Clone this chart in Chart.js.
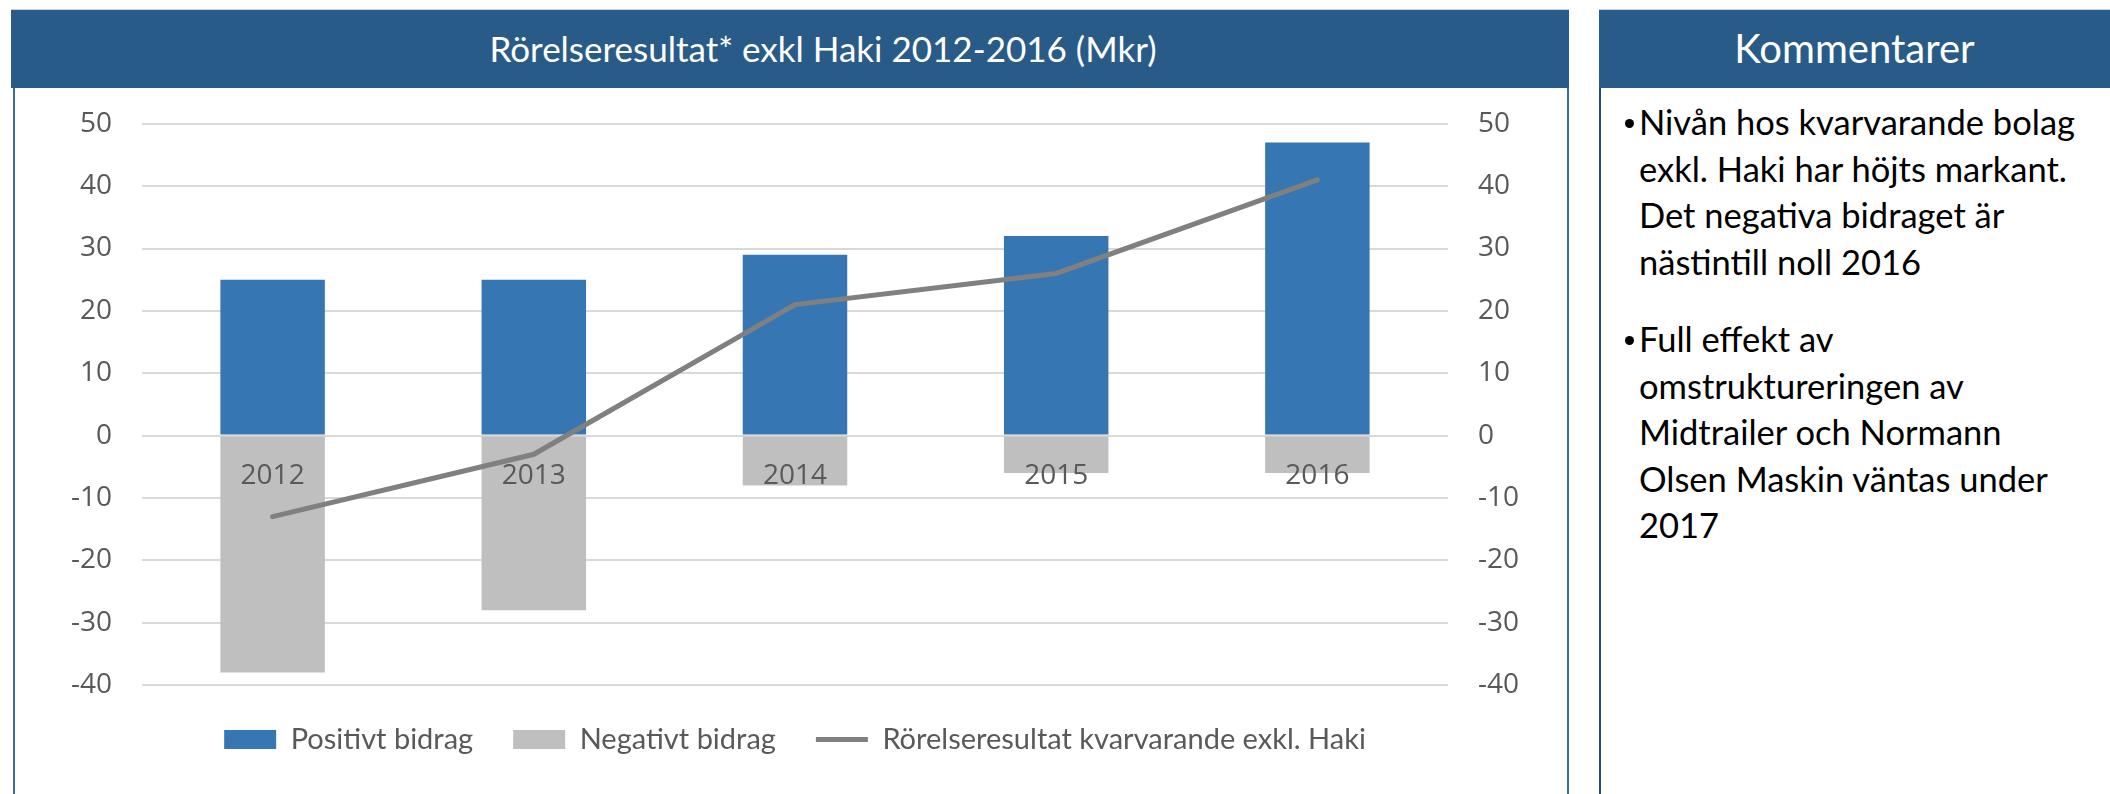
<!DOCTYPE html>
<html>
<head>
  <meta charset="utf-8" />
  <title>Rörelseresultat exkl Haki</title>
  <script src="https://cdn.jsdelivr.net/npm/chart.js@4.4.1/dist/chart.umd.min.js"></script>
  <style>
    body {
      margin: 0;
      background-color: #ffffff;
      width: 2110px;
      height: 794px;
      overflow: hidden;
      position: relative;
      font-family: Lato, "Open Sans", sans-serif;
    }

    .header {
      position: absolute;
      top: 9px;
      height: 79px;
      background-color: #295b89;
      border-top: 1px solid #c9d3de;
      color: #ffffff;
      font-size: 35px;
      line-height: 77px;
      text-align: center;
      box-sizing: border-box;
    }

    #chartHeader { left: 11px; width: 1558px; padding-left: 66px; }
    #commentHeader { left: 1599px; width: 520px; font-size: 40px; padding-right: 9px; }

    .frame {
      position: absolute;
      top: 88px;
      bottom: 0;
      border-left: 2px solid #3a6c9c;
    }

    #chartBox {
      position: absolute;
      left: 15px;
      top: 77px;
      width: 1552px;
      height: 717px;
    }

    #comments {
      position: absolute;
      left: 1612px;
      top: 99px;
      width: 498px;
      font-size: 34.5px;
      color: #000000;
      line-height: 46.5px;
    }

    #comments p {
      margin: 0 0 31px 0;
      padding-left: 27px;
      position: relative;
      white-space: nowrap;
    }

    #comments p:before {
      content: "";
      position: absolute;
      left: 13px;
      top: 20px;
      width: 9px;
      height: 9px;
      border-radius: 50%;
      background-color: #000000;
    }
  </style>
</head>
<body>
  <div class="header" id="chartHeader">Rörelseresultat* exkl Haki 2012-2016 (Mkr)</div>
  <div class="frame" style="left: 13px;"></div>
  <div class="frame" style="left: 1567px;"></div>
  <div id="chartBox"><canvas id="resultChart"></canvas></div>

  <div class="header" id="commentHeader">Kommentarer</div>
  <div class="frame" style="left: 1599px; border-left-color: #264a70;"></div>
  <div id="comments">
    <p>Nivån hos kvarvarande bolag<br>exkl. Haki har höjts markant.<br>Det negativa bidraget är<br>nästintill noll 2016</p>
    <p>Full effekt av<br>omstruktureringen av<br>Midtrailer och Normann<br>Olsen Maskin väntas under<br>2017</p>
  </div>

  <script>
    // data (Mkr)
    const years = ['2012', '2013', '2014', '2015', '2016'];
    const positivt = [25, 25, 29, 32, 47];
    const negativt = [-38, -28, -8, -6, -6];
    const resultat = [-13, -3, 21, 26, 41];

    const axisMin = -40;
    const axisMax = 50;
    const axisStep = 10;

    const tickFont = { family: "'Open Sans'", size: 28 };
    const tickColor = '#595959';

    var ctx = document.getElementById('resultChart');
    var chart = new Chart(ctx, {
      type: 'bar',
      data: {
        labels: years,
        datasets: [{
          label: 'Positivt bidrag',
          data: positivt,
          backgroundColor: '#3677b3',
          borderWidth: 0,
          pointStyle: 'rect',
          barPercentage: 0.8,
          categoryPercentage: 0.5,
          order: 2
        }, {
          label: 'Negativt bidrag',
          data: negativt,
          backgroundColor: '#bfbfbf',
          borderWidth: 0,
          pointStyle: 'rect',
          barPercentage: 0.8,
          categoryPercentage: 0.5,
          order: 3
        }, {
          type: 'line',
          label: 'Rörelseresultat kvarvarande exkl. Haki',
          data: resultat,
          borderColor: '#808080',
          backgroundColor: '#808080',
          borderWidth: 5,
          borderCapStyle: 'round',
          pointRadius: 0,
          pointStyle: 'line',
          tension: 0,
          order: 1
        }]
      },
      options: {
        responsive: true,
        maintainAspectRatio: false,
        animation: false,
        layout: {
          padding: { left: 26, right: 18, top: 20, bottom: 30 }
        },
        plugins: {
          tooltip: { enabled: false },
          legend: {
            position: 'bottom',
            labels: {
              usePointStyle: true,
              pointStyleWidth: 52,
              boxHeight: 19,
              padding: 40,
              color: tickColor,
              font: { family: 'Lato', size: 29 },
              sort: (a, b) => a.datasetIndex - b.datasetIndex
            }
          }
        },
        scales: {
          x: {
            stacked: true,
            position: { y: 0 },
            grid: { display: false, drawTicks: false },
            border: { display: false },
            ticks: { color: tickColor, font: tickFont, padding: 24, z: 1 }
          },
          y: {
            stacked: true,
            min: axisMin,
            max: axisMax,
            position: 'left',
            grid: { color: '#d9d9d9', lineWidth: 2, drawTicks: false },
            border: { display: false },
            ticks: { stepSize: axisStep, color: tickColor, font: tickFont, padding: 30 }
          },
          y2: {
            min: axisMin,
            max: axisMax,
            position: 'right',
            grid: { display: false, drawTicks: false },
            border: { display: false },
            ticks: { stepSize: axisStep, color: tickColor, font: tickFont, padding: 30 }
          }
        }
      }
    });
  </script>
</body>
</html>
